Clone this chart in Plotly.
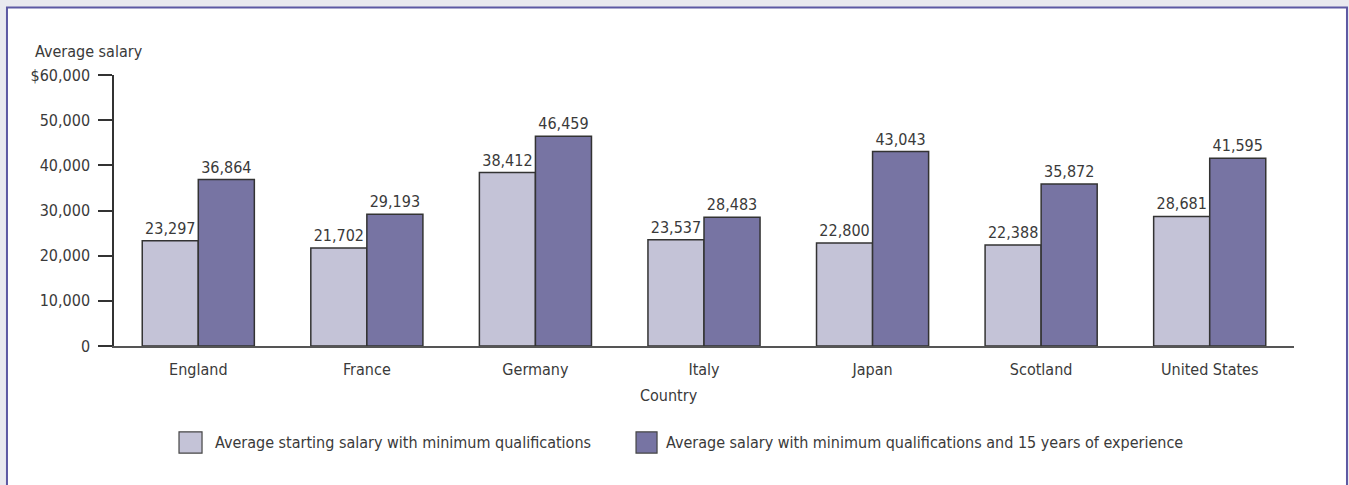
import plotly.graph_objects as go

countries = ["England", "France", "Germany", "Italy", "Japan", "Scotland", "United States"]
starting_salary = [23297, 21702, 38412, 23537, 22800, 22388, 28681]
experienced_salary = [36864, 29193, 46459, 28483, 43043, 35872, 41595]

y_tick_values = [0, 10000, 20000, 30000, 40000, 50000, 60000]
y_tick_labels = ["0", "10,000", "20,000", "30,000", "40,000", "50,000", "$60,000"]

series_names = ["Average starting salary with minimum qualifications",
                "Average salary with minimum qualifications and 15 years of experience"]
series_colors = ["#c4c3d7", "#7774a3"]

FONT = "DejaVu Sans Condensed, Liberation Sans Narrow, sans-serif"
TEXT = "#3a3a3a"

fig = go.Figure()
for name, vals, color in zip(series_names, [starting_salary, experienced_salary], series_colors):
    fig.add_trace(go.Bar(
        x=countries, y=vals, name=name,
        marker=dict(color=color, line=dict(color="#333333", width=1.5)),
        text=[f"{v:,}" for v in vals], textposition="outside",
        cliponaxis=False,
    ))

# white panel with purple frame on a grey page
fig.add_shape(type="rect", xref="paper", yref="paper",
              x0=-0.0907, x1=1.0449, y0=-0.6, y1=1.249,
              line=dict(color="#5d59a3", width=2), fillcolor="white", layer="below")

# legend drawn by hand so the boxes and spacing match
legend_x = [(0.0551, 0.0746, 0.0839), (0.4424, 0.4602, 0.4661)]
annotations = []
for (bx0, bx1, tx), name, color in zip(legend_x, series_names, series_colors):
    fig.add_shape(type="rect", xref="paper", yref="paper", x0=bx0, x1=bx1,
                  y0=-0.395, y1=-0.317, fillcolor=color,
                  line=dict(color="#444444", width=1.2))
    annotations.append(dict(text=name, xref="paper", yref="paper", x=tx, y=-0.356,
                            xanchor="left", yanchor="middle", showarrow=False,
                            font=dict(size=16, color=TEXT)))

annotations += [
    dict(text="Average salary", xref="paper", yref="paper", x=-0.069, y=1.045,
         xanchor="left", yanchor="bottom", showarrow=False, font=dict(size=16, color=TEXT)),
    dict(text="Country", xref="paper", yref="paper", x=0.47, y=-0.14,
         xanchor="center", yanchor="top", showarrow=False, font=dict(size=16, color=TEXT)),
]

fig.update_layout(
    width=1349, height=485,
    margin=dict(l=114, r=55, t=75, b=139),
    paper_bgcolor="#e9e9ef", plot_bgcolor="rgba(0,0,0,0)",
    font=dict(family=FONT, size=16, color=TEXT),
    barmode="group", bargap=0.335, bargroupgap=0,
    showlegend=False,
    annotations=annotations,
)
fig.update_xaxes(showline=True, linecolor="#555555", linewidth=1.5, ticks="",
                 showgrid=False, range=[-0.5, 6.5], ticklabelstandoff=8,
                 tickfont=dict(size=16, color=TEXT))
fig.update_yaxes(range=[0, 60000], tickvals=y_tick_values, ticktext=y_tick_labels,
                 showline=True, linecolor="#333333", linewidth=1.5, ticks="outside",
                 ticklen=14, tickcolor="#333333", tickwidth=1.5, showgrid=False,
                 zeroline=False, ticklabelstandoff=5, tickfont=dict(size=16, color=TEXT))

fig.write_html("out.html", config={"displayModeBar": False},
               post_script="document.body.style.margin='0';")
